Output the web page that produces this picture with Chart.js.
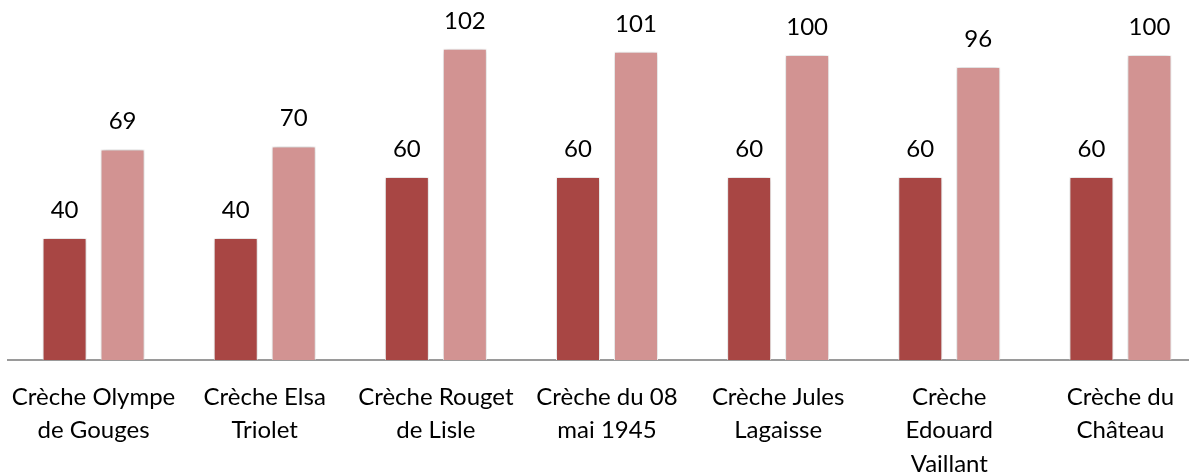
<!DOCTYPE html>
<html>
<head>
<meta charset="utf-8">
<script src="https://cdn.jsdelivr.net/npm/chart.js@4/dist/chart.umd.min.js"></script>
<style>
  html, body { margin: 0; padding: 0; background: #fff; overflow: hidden; }
  #wrap { width: 1189px; height: 472px; overflow: hidden; position: relative; }
  #chart { display: block; }
</style>
</head>
<body>
<div id="wrap"><canvas id="chart" width="1206" height="472"></canvas></div>
<script>
var categories = [
  ['Crèche Olympe', 'de Gouges'],
  ['Crèche Elsa', 'Triolet'],
  ['Crèche Rouget', 'de Lisle'],
  ['Crèche du 08', 'mai 1945'],
  ['Crèche Jules', 'Lagaisse'],
  ['Crèche', 'Edouard', 'Vaillant'],
  ['Crèche du', 'Château']
];
var seriesA = [40, 40, 60, 60, 60, 60, 60];
var seriesB = [69, 70, 102, 101, 100, 96, 100];

var FONT = 'Lato, "Open Sans", sans-serif';

// soft grey halo around the bars, like the office shadow effect
var barShadow = {
  id: 'barShadow',
  beforeDatasetsDraw: function (chart) {
    var ctx = chart.ctx;
    ctx.save();
    ctx.shadowColor = 'rgba(0,0,0,0.28)';
    ctx.shadowBlur = 5;
  },
  afterDatasetsDraw: function (chart) {
    chart.ctx.restore();
  }
};

// numbers above every bar
var valueLabels = {
  id: 'valueLabels',
  afterDraw: function (chart) {
    var ctx = chart.ctx;
    ctx.save();
    ctx.font = '24px ' + FONT;
    ctx.fillStyle = '#000';
    ctx.textAlign = 'center';
    ctx.textBaseline = 'alphabetic';
    chart.data.datasets.forEach(function (ds, i) {
      chart.getDatasetMeta(i).data.forEach(function (bar, j) {
        ctx.fillText(String(ds.data[j]), bar.x, bar.y - 20);
      });
    });
    ctx.restore();
  }
};

var ctx = document.getElementById('chart').getContext('2d');
new Chart(ctx, {
  type: 'bar',
  data: {
    labels: categories,
    datasets: [{
      label: 'A',
      data: seriesA,
      backgroundColor: '#A84644',
      borderColor: 'rgba(255,255,255,0.9)',
      borderWidth: 1
    }, {
      label: 'B',
      data: seriesB,
      backgroundColor: '#D29392',
      borderColor: 'rgba(255,255,255,0.9)',
      borderWidth: 1
    }]
  },
  options: {
    responsive: false,
    animation: false,
    barPercentage: 0.7586,
    categoryPercentage: 0.6776,
    layout: { padding: { left: 8, right: 0, top: 0, bottom: 0 } },
    plugins: {
      legend: { display: false },
      tooltip: { enabled: false }
    },
    scales: {
      x: {
        grid: { display: false, drawTicks: false },
        border: { display: true, color: '#9a9a9a', width: 2 },
        ticks: {
          color: '#000',
          padding: 20,
          maxRotation: 0,
          autoSkip: false,
          font: { family: FONT, size: 24, lineHeight: 1.4 }
        },
        afterFit: function (scale) {
          scale.height = 112;
          scale.paddingLeft = 0;
          scale.paddingRight = 0;
        }
      },
      y: {
        display: false,
        min: 0,
        max: 118
      }
    }
  },
  plugins: [barShadow, valueLabels]
});
</script>
</body>
</html>
